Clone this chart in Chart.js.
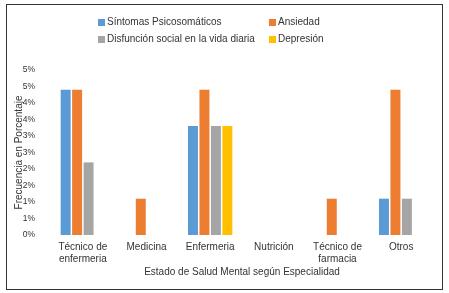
<!DOCTYPE html>
<html>
<head>
<meta charset="utf-8">
<script src="https://cdn.jsdelivr.net/npm/chart.js@4/dist/chart.umd.min.js"></script>
<style>
  html, body { margin: 0; padding: 0; background: #fff; }
</style>
</head>
<body>
<canvas id="myChart" width="449" height="293"></canvas>
<script>
// categories and values (in %)
const categorias = [['Técnico de', 'enfermeria'], 'Medicina', 'Enfermeria', 'Nutrición', ['Técnico de', 'farmacia'], 'Otros'];
const sintomas   = [4.4, 0,   3.3, 0, 0,   1.1];
const ansiedad   = [4.4, 1.1, 4.4, 0, 1.1, 4.4];
const disfuncion = [2.2, 0,   3.3, 0, 0,   1.1];
const depresion  = [0,   0,   3.3, 0, 0,   0];

const FONT = 'Liberation Sans, Arial, sans-serif';
const TEXT = '#333';

// frame around the whole figure + two column legend like the Excel one
const framePlugin = {
  id: 'frame',
  beforeDraw(chart) {
    const ctx = chart.ctx;
    ctx.save();
    ctx.fillStyle = '#fff';
    ctx.fillRect(0, 0, chart.width, chart.height);
    ctx.strokeStyle = '#333';
    ctx.lineWidth = 1;
    ctx.strokeRect(6.5, 4.5, 436, 285);
    ctx.restore();
  },
  afterDraw(chart) {
    const ctx = chart.ctx;
    const cols = [98, 269];
    const rows = [22, 39];
    ctx.save();
    ctx.font = '10px ' + FONT;
    ctx.textBaseline = 'middle';
    chart.data.datasets.forEach((ds, i) => {
      const x = cols[i % 2];
      const y = rows[Math.floor(i / 2)];
      ctx.fillStyle = ds.backgroundColor;
      ctx.fillRect(x, y - 3, 7, 7);
      ctx.fillStyle = TEXT;
      ctx.fillText(ds.label, x + 9, y);
    });
    ctx.restore();
  }
};

const ctx = document.getElementById('myChart').getContext('2d');
const myChart = new Chart(ctx, {
  type: 'bar',
  data: {
    labels: categorias,
    datasets: [
      { label: 'Síntomas Psicosomáticos', data: sintomas, backgroundColor: '#5B9BD5' },
      { label: 'Ansiedad', data: ansiedad, backgroundColor: '#ED7D31' },
      { label: 'Disfunción social en la vida diaria', data: disfuncion, backgroundColor: '#A5A5A5' },
      { label: 'Depresión', data: depresion, backgroundColor: '#FFC000' }
    ]
  },
  options: {
    responsive: false,
    animation: false,
    categoryPercentage: 0.72,
    barPercentage: 0.87,
    layout: { padding: { top: 70, right: 16, bottom: 0, left: 8 } },
    plugins: {
      legend: { display: false },
      tooltip: { enabled: false }
    },
    scales: {
      x: {
        grid: { display: false, drawTicks: false },
        border: { display: false },
        ticks: { padding: 6, color: TEXT, font: { family: FONT, size: 10 }, maxRotation: 0, autoSkip: false },
        title: {
          display: true,
          text: 'Estado de Salud Mental según Especialidad',
          color: TEXT,
          font: { family: FONT, size: 10 },
          padding: { top: 0, bottom: 15 }
        },
        afterFit(scale) { scale.height = 58; }
      },
      y: {
        min: 0,
        max: 5,
        grid: { display: false, drawTicks: false },
        border: { display: false },
        ticks: {
          stepSize: 0.5,
          padding: 16,
          color: TEXT,
          font: { family: FONT, size: 8.5 },
          callback: v => Math.round(v) + '%'
        },
        title: {
          display: true,
          text: 'Frecuencia en Porcentaje',
          color: TEXT,
          font: { family: FONT, size: 10 },
          padding: { top: 5, bottom: 0 }
        },
        afterFit(scale) { scale.width = 43; }
      }
    }
  },
  plugins: [framePlugin]
});
</script>
</body>
</html>
